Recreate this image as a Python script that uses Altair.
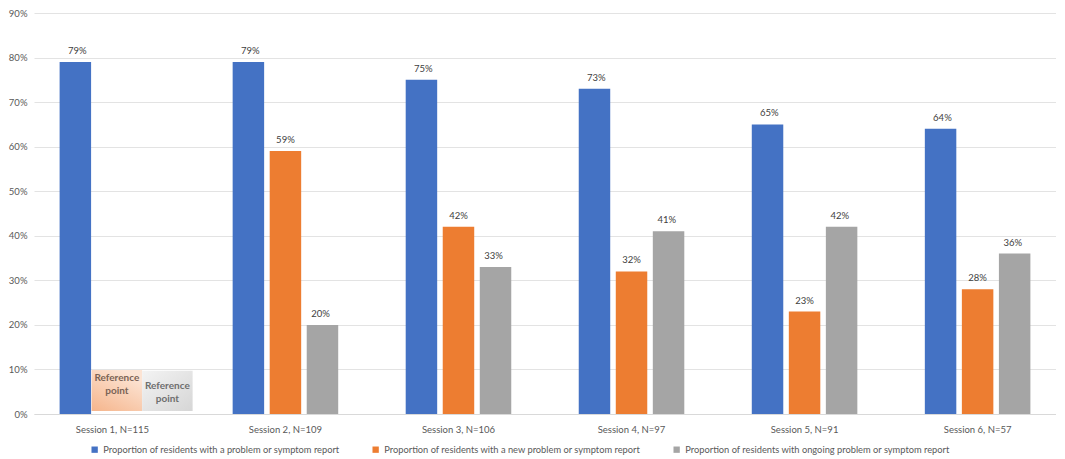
import altair as alt
import pandas as pd

sessions = ["Session 1, N=115", "Session 2, N=109", "Session 3, N=106",
            "Session 4, N=97", "Session 5, N=91", "Session 6, N=57"]
series = ["Proportion of residents with a problem or symptom report",
          "Proportion of residents with a new problem or symptom report",
          "Proportion of residents with ongoing problem or symptom report"]
any_problem = [79, 79, 75, 73, 65, 64]
new_problem = [None, 59, 42, 32, 23, 28]
ongoing_problem = [None, 20, 33, 41, 42, 36]
colors = ["#4472C4", "#ED7D31", "#A5A5A5"]

# "Reference point" boxes drawn in session 1 for the new / ongoing series
ref_session = "Session 1, N=115"
ref_top = [9.9, 9.7]
ref_bottom = [0.7, 0.7]
ref_label = ["Reference", "point"]

rows = []
for s, a, n, o in zip(sessions, any_problem, new_problem, ongoing_problem):
    for ser, v in zip(series, [a, n, o]):
        if v is not None:
            rows.append({"session": s, "series": ser, "value": v})
df = pd.DataFrame(rows)

ref_df = pd.DataFrame({"session": [ref_session, ref_session],
                       "series": series[1:],
                       "top": ref_top, "bottom": ref_bottom,
                       "label": [ref_label, ref_label]})

font = "Lato"
x_enc = alt.X("session:N", sort=sessions, title=None,
              scale=alt.Scale(paddingInner=0.39, paddingOuter=0.148),
              axis=alt.Axis(labelAngle=0, ticks=False, domainColor="#D9D9D9",
                            labelColor="#595959", labelFontSize=9.5, labelPadding=10,
                            labelFont=font))
xo_enc = alt.XOffset("series:N", sort=series,
                     scale=alt.Scale(domain=series, paddingInner=0.15))
y_enc = alt.Y("value:Q", title=None,
              scale=alt.Scale(domain=[0, 90]),
              axis=alt.Axis(values=list(range(0, 91, 10)), labelExpr="datum.value + '%'",
                            ticks=False, domain=False, gridColor="#E3E3E3",
                            labelColor="#595959", labelFontSize=9.5, labelPadding=7,
                            labelFont=font))

bars = alt.Chart(df).mark_bar().encode(
    x=x_enc, xOffset=xo_enc, y=y_enc,
    color=alt.Color("series:N", sort=series,
                    scale=alt.Scale(domain=series, range=colors),
                    legend=alt.Legend(title=None, orient="none", direction="horizontal",
                                      legendX=56, legendY=432,
                                      symbolType="square", symbolSize=40,
                                      labelFontSize=9.3, labelColor="#595959",
                                      labelFont=font, columnPadding=31,
                                      labelLimit=400))
)

labels = alt.Chart(df).transform_calculate(
    txt="datum.value + '%'"
).mark_text(baseline="bottom", dy=-6, fontSize=9.5, color="#404040", font=font).encode(
    x=alt.X("session:N", sort=sessions), xOffset=xo_enc,
    y="value:Q", text="txt:N",
)

# independent offset scale for the reference boxes (they sit right of the blue bar)
ref_xo = alt.XOffset("series:N", sort=series[1:],
                     scale=alt.Scale(domain=series[1:], range=[32, 133],
                                     paddingInner=0, paddingOuter=0))

grad_orange = alt.Gradient(gradient="linear", x1=0, y1=1, x2=0.6, y2=0,
                           stops=[alt.GradientStop(color="#F5B58C", offset=0),
                                  alt.GradientStop(color="#FCE4D4", offset=1)])
grad_gray = alt.Gradient(gradient="linear", x1=0, y1=0, x2=1, y2=1,
                         stops=[alt.GradientStop(color="#F3F3F3", offset=0),
                                alt.GradientStop(color="#D6D6D6", offset=1)])

ref_o = alt.Chart(ref_df).transform_filter(
    alt.datum.series == series[1]).mark_bar(color=grad_orange).encode(
    x=alt.X("session:N", sort=sessions), xOffset=ref_xo, y="top:Q", y2="bottom:Q")
ref_g = alt.Chart(ref_df).transform_filter(
    alt.datum.series == series[2]).mark_bar(color=grad_gray).encode(
    x=alt.X("session:N", sort=sessions), xOffset=ref_xo, y="top:Q", y2="bottom:Q")
ref_text_o = alt.Chart(ref_df).transform_filter(
    alt.datum.series == series[1]).mark_text(
    fontSize=10, color="#7A6355", font=font, fontWeight="bold", lineHeight=13,
    baseline="top", dy=3).encode(
    x=alt.X("session:N", sort=sessions), xOffset=ref_xo, y="top:Q", text="label")
ref_text_g = alt.Chart(ref_df).transform_filter(
    alt.datum.series == series[2]).mark_text(
    fontSize=10, color="#6E6E6E", font=font, fontWeight="bold", lineHeight=13,
    baseline="top", dy=10).encode(
    x=alt.X("session:N", sort=sessions), xOffset=ref_xo, y="top:Q", text="label")

ref_layer = alt.layer(ref_o, ref_g, ref_text_o, ref_text_g)

chart = alt.layer(bars, labels, ref_layer).resolve_scale(
    xOffset="independent"
).properties(
    width=1022, height=401,
    padding={"left": 0, "top": 0, "right": 0, "bottom": 0},
    background="white"
).configure_view(strokeWidth=0)

chart.save("out.html", embed_options={"renderer": "svg", "actions": False})
